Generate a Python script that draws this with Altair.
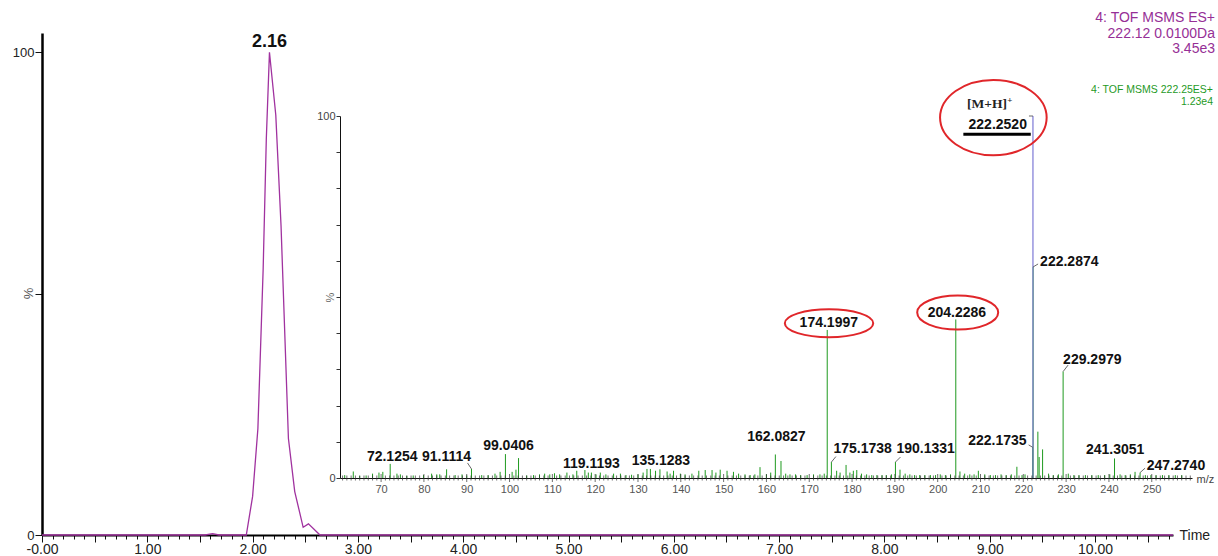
import altair as alt
import pandas as pd

# ---------------- data ----------------
# Extracted-ion chromatogram (retention time in min, relative intensity in %)
rt_min = [0.00, 1.55, 1.62, 1.68, 1.94, 2.00, 2.05, 2.10, 2.13, 2.16, 2.22, 2.27,
          2.34, 2.40, 2.48, 2.53, 2.64, 10.74]
rt_pct = [0, 0, 0.3, 0, 0, 8, 22, 55, 82, 100, 87, 64, 20, 9, 1.6, 2.3, 0, 0]

# Product-ion spectrum: precursor trace and fragment ions (m/z, relative abundance %)
precursor_mz = 222.2520
precursor_pct = 100.0

ion_mz = [61.5, 63.5, 65.0, 66.5, 68.0, 69.5, 70.4, 72.1254, 73.7, 74.5, 76.0, 77.5,
          79.9, 81.8, 83.0, 83.7, 85.3, 87.3, 88.9, 90.0, 91.1114, 93.5, 95.0, 96.6,
          97.8, 99.0406, 100.6, 101.5, 102.1, 104.0, 105.6, 107.0, 108.2, 109.4, 110.5,
          111.7, 113.4, 114.8, 115.7, 117.6, 118.4, 119.1193, 120.2, 121.2, 122.5,
          124.3, 125.9, 127.2, 128.5, 130.0, 131.2, 132.1, 132.9, 134.1, 135.1283,
          136.8, 137.5, 138.3, 139.9, 141.0, 142.6, 144.2, 145.7, 147.3, 148.2, 149.2,
          150.8, 152.3, 153.5, 155.0, 156.2, 157.3, 158.5, 160.0, 161.0, 162.0827,
          163.4, 164.5, 165.5, 166.8, 168.0, 169.5, 171.0, 172.5, 173.5, 174.1997,
          175.1738, 176.4, 177.2, 178.6, 179.5, 180.3, 181.1, 182.2, 183.4, 184.6,
          185.8, 187.0, 188.0, 189.2, 190.1331, 191.2, 192.4, 193.5, 194.6, 195.8,
          197.0, 198.3, 199.5, 200.6, 201.8, 203.0, 204.2286, 205.2, 206.3, 207.5,
          208.5, 209.5, 211.0, 212.3, 213.5, 214.8, 216.0, 217.2, 218.5, 219.7, 220.4,
          222.1735, 222.2874, 223.4, 223.7, 224.5, 225.9, 227.0, 228.2, 229.2979,
          230.5, 231.8, 233.0, 234.5, 236.0, 237.5, 239.0, 240.2, 241.3051, 242.6,
          243.8, 245.0, 246.1, 247.2740, 248.5, 249.8, 251.0, 252.5, 254.0, 255.5, 257.0]
ion_pct = [0.8, 1.8, 0.6, 0.7, 1.2, 1.5, 1.7, 3.9, 1.2, 1.0, 0.6, 0.7,
           0.8, 1.2, 1.0, 1.0, 2.4, 0.8, 1.0, 0.7, 2.5, 0.8, 0.8, 1.2,
           1.7, 6.6, 1.7, 2.3, 5.5, 0.7, 0.8, 1.0, 1.2, 1.0, 1.3,
           1.0, 1.5, 1.0, 2.0, 2.2, 1.5, 1.5, 1.0, 1.5, 1.0,
           1.2, 1.2, 0.8, 0.9, 1.0, 1.5, 2.5, 2.5, 2.0, 2.4,
           1.8, 1.2, 2.0, 1.2, 1.0, 1.2, 2.0, 2.2, 2.2, 1.5, 2.3,
           2.0, 1.7, 1.2, 1.0, 0.8, 1.0, 3.0, 1.0, 1.5, 6.5,
           4.7, 1.2, 1.0, 1.0, 0.8, 0.8, 1.0, 1.0, 1.2, 40.9,
           4.4, 2.0, 1.5, 3.6, 1.5, 2.0, 2.2, 1.2, 1.0, 0.8,
           0.8, 0.8, 0.8, 1.0, 4.4, 2.3, 1.2, 1.0, 0.8, 0.8,
           0.8, 0.8, 0.8, 1.0, 0.8, 1.0, 43.8, 1.8, 1.2, 1.0,
           1.0, 2.0, 1.0, 0.8, 0.8, 1.0, 0.8, 1.0, 3.1, 0.8, 1.0,
           8.5, 58.3, 12.8, 5.8, 7.9, 1.2, 0.8, 1.0, 29.4,
           1.2, 0.8, 0.8, 0.8, 0.8, 0.8, 0.8, 1.0, 5.4, 1.0,
           0.8, 1.0, 1.7, 1.5, 0.8, 0.8, 0.8, 0.8, 0.8, 0.8, 0.8]

labelled_mz = [72.1254, 91.1114, 99.0406, 119.1193, 135.1283, 162.0827, 174.1997,
               175.1738, 190.1331, 204.2286, 222.1735, 222.2874, 229.2979,
               241.3051, 247.2740]

header_lines = ["4: TOF MSMS ES+", "222.12 0.0100Da", "3.45e3"]
trace_lines = ["4: TOF MSMS 222.25ES+", "1.23e4"]
precursor_tag = "[M+H]"
charge_tag = "+"

# ---------------- layout ----------------
PLOT_W, PLOT_H = 1131, 502
T_MAX, PCT_MAX = 10.74, 104

# the inset spectrum lives in its own pixel window inside the plot area
MZ_DOMAIN = [60.4, 259.4]
MZ_RANGE = [298, 1150]
AB_RANGE = [445, 83]
PX_PER_MZ = (MZ_RANGE[1] - MZ_RANGE[0]) / (MZ_DOMAIN[1] - MZ_DOMAIN[0])
PX_PER_PCT = (AB_RANGE[0] - AB_RANGE[1]) / 100.0

PURPLE = "#a0329f"
HEAD_PURPLE = "#962f96"
GREEN = "#1f9a1f"
LAVENDER = "#7c78d6"
RED = "#e0262a"
FONT = "Liberation Sans"
SERIF = "Liberation Serif"

# label anchor offsets (px) from each peak top: dx, dy, align
label_offsets = {
    72.1254: (2, -3, "center"),
    91.1114: (-25, -8, "center"),
    99.0406: (3, -4, "center"),
    119.1193: (0, -5, "center"),
    135.1283: (1, -4, "center"),
    162.0827: (1, -13, "center"),
    174.1997: (1.6, -2.7, "center"),
    175.1738: (2, -9, "left"),
    190.1331: (1, -9, "left"),
    204.2286: (1.1, -2.6, "center"),
    222.1735: (-6, -2, "right"),
    222.2874: (7, -1, "left"),
    229.2979: (0, -8, "left"),
    241.3051: (0.6, -4.3, "center"),
    247.2740: (6.7, -3, "left"),
}
# leader segments (px) from a peak top towards its label
leader_offsets = {
    91.1114: (-4, -6), 175.1738: (4.5, -5.5), 190.1331: (5, -5),
    222.2874: (5, -3), 229.2979: (5, -6.5), 222.1735: (-4, -2.3),
    247.2740: (5, -4.4), 222.2520: (-4, 0),
}
# ellipse outlines: centre offset (px) and radii (px)
ellipse_geom = {
    174.1997: (1.8, -6.7, 44.2, 14.0),
    204.2286: (1.9, -6.9, 40.5, 17.0),
    222.2520: (-39.6, 1.6, 53.3, 37.7),
}

pct_of = dict(zip(ion_mz, ion_pct))
pct_of[precursor_mz] = precursor_pct


def place(mz, pct, dx, dy):
    """Shift a (m/z, %) point by a pixel offset in the inset's scales."""
    return mz + dx / PX_PER_MZ, pct - dy / PX_PER_PCT


def ellipse_path(k):
    c = 0.5523
    return (f"M 1 0 C 1 {c*k:.4f} {c} {k:.4f} 0 {k:.4f} "
            f"C {-c} {k:.4f} -1 {c*k:.4f} -1 0 "
            f"C -1 {-c*k:.4f} {-c} {-k:.4f} 0 {-k:.4f} "
            f"C {c} {-k:.4f} 1 {-c*k:.4f} 1 0 Z")


chrom_df = pd.DataFrame({"t": rt_min, "v": rt_pct})
apex_i = max(range(len(rt_pct)), key=lambda i: rt_pct[i])
apex_df = pd.DataFrame({"t": [rt_min[apex_i]], "v": [rt_pct[apex_i]],
                        "lab": [f"{rt_min[apex_i]:.2f}"]})

ions_df = pd.DataFrame({"mz": ion_mz, "pct": ion_pct, "base": 0.0})
prec_df = pd.DataFrame({"mz": [precursor_mz], "pct": [precursor_pct], "base": [0.0]})
ticks_df = pd.DataFrame({"tk": list(range(61, 260)), "base": 0.0})

rows = []
for mz in labelled_mz:
    dx, dy, al = label_offsets[mz]
    x, y = place(mz, pct_of[mz], dx, dy)
    rows.append({"x": x, "y": y, "text": f"{mz:.4f}", "align": al})
x, y = place(precursor_mz, precursor_pct, -6, 13)
rows.append({"x": x, "y": y, "text": f"{precursor_mz:.4f}", "align": "right"})
labels_df = pd.DataFrame(rows)

lead_rows = []
for mz, (dx, dy) in leader_offsets.items():
    x2, y2 = place(mz, pct_of[mz], dx, dy)
    lead_rows.append({"x": mz, "y": pct_of[mz], "x2": x2, "y2": y2})
lead_df = pd.DataFrame(lead_rows)

ux1, uy = place(precursor_mz, precursor_pct, -69.6, 18.3)
ux2, _ = place(precursor_mz, precursor_pct, -2.2, 18.3)
under_df = pd.DataFrame({"x": [ux1], "x2": [ux2], "y": [uy]})

tx, ty = place(precursor_mz, precursor_pct, -66, -8.5)
cx, cy = place(precursor_mz, precursor_pct, -25.6, -13)
tag_df = pd.DataFrame({"x": [tx], "y": [ty], "text": [precursor_tag]})
charge_df = pd.DataFrame({"x": [cx], "y": [cy], "text": [charge_tag]})

ell_rows = []
for mz, (dx, dy, rx, ry) in ellipse_geom.items():
    ex, ey = place(mz, pct_of[mz], dx, dy)
    ell_rows.append({"x": ex, "y": ey, "shape": ellipse_path(ry / rx), "size": (2 * rx) ** 2})
ell_df = pd.DataFrame(ell_rows)

# ---------------- chromatogram ----------------
time_ticks = [round(i * 0.1, 1) for i in range(0, 108)]


def t_scale():
    return alt.Scale(domain=[0, T_MAX], nice=False, zero=False)


def p_scale():
    return alt.Scale(domain=[0, PCT_MAX], nice=False)


main_x_axis = alt.Axis(
    orient="bottom", values=time_ticks, grid=False,
    labelExpr="abs(datum.value - round(datum.value)) < 0.001 ? "
              "(datum.value == 0 ? '-0.00' : format(datum.value, '.2f')) : ''",
    labelOverlap=False, labelFlush=False, labelFontSize=14, labelColor="#222",
    labelFont=FONT, labelPadding=0,
    tickSize={"condition": {"test": "abs(datum.value*2 - round(datum.value*2)) < 0.01",
                            "value": 7}, "value": 4},
    tickColor="#111", tickWidth=1, domainColor="#000", domainWidth=2,
    title="Time", titleX=1137, titleY=0, titleAlign="left", titleBaseline="middle",
    titleFontSize=14, titleFontWeight="normal", titleColor="#222", titleFont=FONT,
)
main_y_axis = alt.Axis(
    orient="left", values=[0, 50, 100], grid=False,
    labelExpr="datum.value == 50 ? '' : datum.label",
    tickSize=7, tickColor="#111", domainColor="#000", domainWidth=2.5,
    labelFontSize=13, labelColor="#222", labelFont=FONT, labelPadding=1,
    title="%", titleX=-7, titleY=260, titleAngle=270, titleAlign="center",
    titleBaseline="bottom", titleFontSize=13, titleFontWeight="normal",
    titleColor="#555", titleFont=FONT,
)

chrom = alt.Chart(chrom_df).mark_line(color=PURPLE, strokeWidth=1.3).encode(
    x=alt.X("t:Q", scale=t_scale(), axis=main_x_axis),
    y=alt.Y("v:Q", scale=p_scale(), axis=main_y_axis),
)
apex = alt.Chart(apex_df).mark_text(
    dy=-5, baseline="alphabetic", fontSize=18, fontWeight="bold", font=FONT, color="#111"
).encode(
    x=alt.X("t:Q", scale=t_scale(), axis=None),
    y=alt.Y("v:Q", scale=p_scale(), axis=None),
    text="lab:N",
)

# ---------------- inset spectrum ----------------
def mz_scale():
    return alt.Scale(domain=MZ_DOMAIN, range=MZ_RANGE, nice=False, zero=False)


def ab_scale():
    return alt.Scale(domain=[0, 100], range=AB_RANGE, nice=False)


inset_x_axis = alt.Axis(
    orient="bottom", offset=-57, values=list(range(70, 251, 10)), grid=False,
    ticks=False, labelOverlap=False, labelFlush=False, labelPadding=5,
    labelFontSize=11, labelColor="#555", labelFont=FONT,
    domainColor="#111", domainWidth=1,
    title="m/z", titleX=1154, titleY=1, titleAlign="left", titleBaseline="middle",
    titleFontSize=11, titleFontWeight="normal", titleColor="#444", titleFont=FONT,
)
inset_y_axis = alt.Axis(
    orient="left", offset=-298, values=list(range(0, 101, 10)), grid=False,
    labelExpr="datum.value == 0 || datum.value == 100 ? datum.label : ''",
    tickSize=4, tickColor="#333", domainColor="#111", domainWidth=1,
    labelFontSize=11, labelColor="#444", labelFont=FONT, labelPadding=1,
    title="%", titleX=-5, titleY=264, titleAngle=270, titleAlign="center",
    titleBaseline="bottom", titleFontSize=11, titleFontWeight="normal",
    titleColor="#666", titleFont=FONT,
)


def mx(field, axis=None):
    return alt.X(field, scale=mz_scale(), axis=axis)


def my(field, axis=None):
    return alt.Y(field, scale=ab_scale(), axis=axis)


ions = alt.Chart(ions_df).mark_rule(color=GREEN, strokeWidth=1).encode(
    x=mx("mz:Q", inset_x_axis), y=my("pct:Q", inset_y_axis), y2="base:Q")
prec = alt.Chart(prec_df).mark_rule(color=LAVENDER, strokeWidth=1.2).encode(
    x=mx("mz:Q"), y=my("pct:Q"), y2="base:Q")
axis_ticks = alt.Chart(ticks_df).mark_tick(orient="vertical", thickness=1, color="#333").encode(
    x=mx("tk:Q"), y=my("base:Q"),
    size=alt.condition("datum.tk % 10 == 0", alt.value(8), alt.value(5)))
leaders = alt.Chart(lead_df).mark_rule(color="#444", strokeWidth=0.8).encode(
    x=mx("x:Q"), x2="x2:Q", y=my("y:Q"), y2="y2:Q")
underline = alt.Chart(under_df).mark_rule(color="#000", strokeWidth=3).encode(
    x=mx("x:Q"), x2="x2:Q", y=my("y:Q"))
ellipses = alt.Chart(ell_df).mark_point(filled=False, stroke=RED, strokeWidth=2, opacity=1).encode(
    x=mx("x:Q"), y=my("y:Q"),
    shape=alt.Shape("shape:N", scale=None, legend=None),
    size=alt.Size("size:Q", scale=None, legend=None))

label_layers = []
for al in ["center", "left", "right"]:
    label_layers.append(
        alt.Chart(labels_df).transform_filter(alt.datum.align == al).mark_text(
            align=al, baseline="alphabetic", fontSize=14, fontWeight="bold",
            font=FONT, color="#111"
        ).encode(x=mx("x:Q"), y=my("y:Q"), text="text:N")
    )
tag = alt.Chart(tag_df).mark_text(
    align="left", baseline="alphabetic", fontSize=13.5, fontWeight="bold",
    font=SERIF, color="#222").encode(x=mx("x:Q"), y=my("y:Q"), text="text:N")
charge = alt.Chart(charge_df).mark_text(
    align="left", baseline="alphabetic", fontSize=9, fontWeight="bold",
    font=SERIF, color="#222").encode(x=mx("x:Q"), y=my("y:Q"), text="text:N")

# ---------------- header texts ----------------
head_df = pd.DataFrame({"txt": ["\n".join(header_lines)]})
trace_df = pd.DataFrame({"txt": ["\n".join(trace_lines)]})
head = alt.Chart(head_df).mark_text(
    align="right", baseline="alphabetic", fontSize=14, font=FONT, color=HEAD_PURPLE,
    lineBreak="\n", lineHeight=15.5).encode(
    x=alt.value(1173), y=alt.value(-11), text="txt:N")
trace = alt.Chart(trace_df).mark_text(
    align="right", baseline="alphabetic", fontSize=10.5, font=FONT, color=GREEN,
    lineBreak="\n", lineHeight=12).encode(
    x=alt.value(1171), y=alt.value(60), text="txt:N")

chart = alt.layer(
    chrom, apex, ions, prec, axis_ticks, leaders, underline, ellipses,
    *label_layers, tag, charge, head, trace
).resolve_scale(
    x="independent", y="independent"
).properties(
    width=PLOT_W, height=PLOT_H,
    autosize=alt.AutoSizeParams(type="none"),
    padding={"left": 42, "top": 33, "right": 45, "bottom": 21},
).configure_view(stroke=None).configure_axis(grid=False)

chart.save("out.html", embed_options={"renderer": "svg", "actions": False})
